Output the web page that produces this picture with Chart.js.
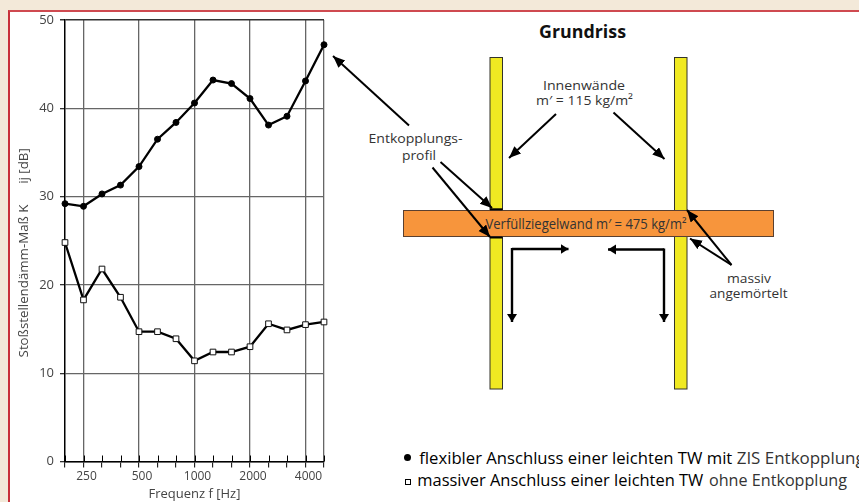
<!DOCTYPE html>
<html lang="de">
<head>
<meta charset="utf-8">
<title>Grundriss</title>
<script src="https://cdn.jsdelivr.net/npm/chart.js@4"></script>
<style>
html, body { margin: 0; padding: 0; width: 859px; height: 502px; overflow: hidden; background: #f3e9d9; }
#panel { position: absolute; left: 8px; top: 10px; width: 860px; height: 500px; background: #fff; border-left: 2px solid #c8303a; border-top: 2px solid #cf4a50; box-sizing: border-box; }
#sketch { position: absolute; left: 0; top: 0; }
#chart-area { position: absolute; left: 0; top: 0; }
svg text { font-family: "Open Sans", Lato, sans-serif; fill: #333; }
svg text.dark { fill: #000; }
</style>
</head>
<body>
<div id="panel"></div>
<svg id="sketch" width="859" height="502" viewBox="0 0 859 502">
  <defs>
    <marker id="head" markerUnits="userSpaceOnUse" markerWidth="14" markerHeight="12" refX="12" refY="5" orient="auto">
      <path d="M0,0 L12,5 L0,10 Z" fill="#000"></path>
    </marker>
    <marker id="small" markerUnits="userSpaceOnUse" markerWidth="12" markerHeight="12" refX="8" refY="5" orient="auto">
      <path d="M0,0 L8,5 L0,10 Z" fill="#000"></path>
    </marker>
  </defs>
  <text x="582.5" y="38" text-anchor="middle" font-size="18" font-weight="700" textLength="87" lengthAdjust="spacingAndGlyphs" style="fill:#111">Grundriss</text>

  <rect x="490" y="57.5" width="12.5" height="331.5" fill="#f0e922" stroke="#33332a" stroke-width="1"></rect>
  <rect x="674.5" y="57.5" width="12.5" height="331.5" fill="#f0e922" stroke="#33332a" stroke-width="1"></rect>
  <rect x="403.5" y="210.5" width="370" height="26" fill="#f7953c" stroke="#5a4030" stroke-width="1"></rect>
  <line x1="490" y1="209.3" x2="502.5" y2="209.3" stroke="#000" stroke-width="2"></line>
  <line x1="490" y1="237.5" x2="502.5" y2="237.5" stroke="#000" stroke-width="2"></line>

  <text x="584" y="90" text-anchor="middle" font-size="13.5" textLength="82" lengthAdjust="spacingAndGlyphs">Innenwände</text>
  <text x="584.5" y="105" text-anchor="middle" font-size="13.5" textLength="97" lengthAdjust="spacingAndGlyphs">m′ = 115 kg/m²</text>
  <text x="415.5" y="143" text-anchor="middle" font-size="13.5" textLength="94" lengthAdjust="spacingAndGlyphs">Entkopplungs-</text>
  <text x="419" y="160" text-anchor="middle" font-size="13.5" textLength="34" lengthAdjust="spacingAndGlyphs">profil</text>
  <text x="485.5" y="229" font-size="14" textLength="201" lengthAdjust="spacingAndGlyphs">Verfüllziegelwand m′ = 475 kg/m²</text>
  <text x="749" y="283" text-anchor="middle" font-size="13" textLength="44" lengthAdjust="spacingAndGlyphs">massiv</text>
  <text x="748.5" y="298" text-anchor="middle" font-size="13" textLength="78" lengthAdjust="spacingAndGlyphs">angemörtelt</text>

  <g stroke="#000" stroke-width="2" fill="none" marker-end="url(#head)">
    <line x1="409" y1="125.5" x2="333" y2="56"></line>
    <line x1="556" y1="114" x2="509" y2="158"></line>
    <line x1="613.5" y1="112.5" x2="664.5" y2="159"></line>
    <line x1="440.5" y1="162" x2="492" y2="208"></line>
    <line x1="432.5" y1="167.5" x2="490" y2="237"></line>
    <line x1="731.5" y1="265" x2="687" y2="210"></line>
    <line x1="731.5" y1="265" x2="690" y2="238.5"></line>
  </g>
  <g stroke="#000" stroke-width="2.4" fill="none" marker-end="url(#small)">
    <line x1="512" y1="249" x2="568.5" y2="249"></line>
    <line x1="512" y1="248" x2="512" y2="322"></line>
    <line x1="664" y1="249.5" x2="608" y2="249.5"></line>
    <line x1="664" y1="248.5" x2="664" y2="322"></line>
  </g>

  <circle cx="407.5" cy="457.5" r="3.5" fill="#000"></circle>
  <text class="dark" x="419.3" y="464" font-size="16" textLength="313" lengthAdjust="spacingAndGlyphs">flexibler Anschluss einer leichten TW mit</text>
  <text x="736.7" y="464" font-size="16" textLength="128" lengthAdjust="spacingAndGlyphs">ZIS Entkopplung</text>
  <rect x="405.5" y="479.5" width="5" height="5" fill="#fff" stroke="#000" stroke-width="1"></rect>
  <text class="dark" x="417.3" y="486" font-size="16" textLength="286" lengthAdjust="spacingAndGlyphs">massiver Anschluss einer leichten TW</text>
  <text x="709" y="486" font-size="16" textLength="138" lengthAdjust="spacingAndGlyphs">ohne Entkopplung</text>
</svg>
<canvas id="chart-area" width="340" height="502"></canvas>
<script>
var frequencies = ["200", "250", "315", "400", "500", "630", "800", "1000", "1250", "1600", "2000", "2500", "3150", "4000", "5000"];
var shownFrequencies = ["250", "500", "1000", "2000", "4000"];
var yTicks = [0, 10, 20, 30, 40, 50];
var flexibel = [29.2, 28.9, 30.3, 31.3, 33.4, 36.5, 38.4, 40.6, 43.2, 42.8, 41.1, 38.1, 39.1, 43.1, 47.2];
var massiv = [24.8, 18.3, 21.8, 18.6, 14.7, 14.7, 13.9, 11.4, 12.4, 12.4, 13.0, 15.6, 14.9, 15.5, 15.8];

// kleine Striche oberhalb der x-Achse
var innerTicks = {
    id: 'innerTicks',
    afterDatasetsDraw: function (chart) {
        var ctx = chart.ctx;
        var x = chart.scales.x;
        var area = chart.chartArea;
        ctx.save();
        ctx.strokeStyle = '#000';
        ctx.lineWidth = 1;
        for (var i = 0; i < frequencies.length; i++) {
            var px = Math.round(x.getPixelForValue(i)) + 0.5;
            ctx.beginPath();
            ctx.moveTo(px, area.bottom);
            ctx.lineTo(px, area.bottom - 6);
            ctx.stroke();
        }
        ctx.restore();
    }
};

var config = {
    type: 'line',
    data: {
        labels: frequencies,
        datasets: [{
            label: 'flexibler Anschluss',
            data: flexibel,
            borderColor: '#000',
            borderWidth: 2.3,
            tension: 0,
            clip: false,
            pointStyle: 'circle',
            pointRadius: 3,
            pointBackgroundColor: '#000',
            pointBorderColor: '#000',
            pointBorderWidth: 1
        }, {
            label: 'massiver Anschluss',
            data: massiv,
            borderColor: '#000',
            borderWidth: 2.3,
            tension: 0,
            clip: false,
            pointStyle: 'rect',
            pointRadius: 4,
            pointBackgroundColor: '#fff',
            pointBorderColor: '#111',
            pointBorderWidth: 1
        }]
    },
    options: {
        responsive: false,
        animation: false,
        layout: { padding: { left: 15, right: 16, top: 20, bottom: 0 } },
        plugins: { legend: { display: false }, tooltip: { enabled: false } },
        scales: {
            x: {
                type: 'category',
                offset: false,
                afterFit: function (scale) { scale.height = 40.5; },
                border: { color: '#000', width: 1.5 },
                grid: {
                    lineWidth: 1.3,
                    color: function (c) {
                        var label = frequencies[c.index];
                        return (shownFrequencies.indexOf(label) >= 0 || label === "5000") ? '#666' : 'rgba(0,0,0,0)';
                    },
                    tickColor: '#000',
                    tickWidth: 1,
                    tickLength: 6
                },
                ticks: {
                    autoSkip: false,
                    maxRotation: 0,
                    padding: 2,
                    labelOffset: 3,
                    color: '#444',
                    font: { family: 'Open Sans', size: 12 },
                    callback: function (value, index) {
                        var label = frequencies[index];
                        return shownFrequencies.indexOf(label) >= 0 ? label : '';
                    }
                },
                title: {
                    display: true,
                    text: 'Frequenz f [Hz]',
                    color: '#444',
                    font: { family: 'Open Sans', size: 13 },
                    padding: { top: 7, bottom: 0 }
                }
            },
            y: {
                min: 0,
                max: 50,
                afterFit: function (scale) { scale.width = 50; },
                afterBuildTicks: function (scale) {
                    scale.ticks = yTicks.map(function (v) { return { value: v }; });
                },
                border: { color: '#000', width: 1.5 },
                grid: {
                    lineWidth: function (c) { return c.tick && c.tick.value === 50 ? 1.5 : 1.3; },
                    color: function (c) { return c.tick && c.tick.value === 50 ? '#333' : '#666'; },
                    tickColor: '#333',
                    tickLength: 5
                },
                ticks: {
                    padding: 6,
                    color: '#444',
                    font: { family: 'Open Sans', size: 13 }
                },
                title: {
                    display: true,
                    text: 'Stoßstellendämm-Maß K      ij [dB]\u00a0\u00a0\u00a0\u00a0\u00a0\u00a0\u00a0',
                    color: '#444',
                    font: { family: 'Open Sans', size: 13.3 },
                    padding: { top: 1, bottom: 0 }
                }
            }
        }
    },
    plugins: [innerTicks]
};

var ctx = document.getElementById("chart-area").getContext("2d");
window.myLine = new Chart(ctx, config);
</script>
</body>
</html>
